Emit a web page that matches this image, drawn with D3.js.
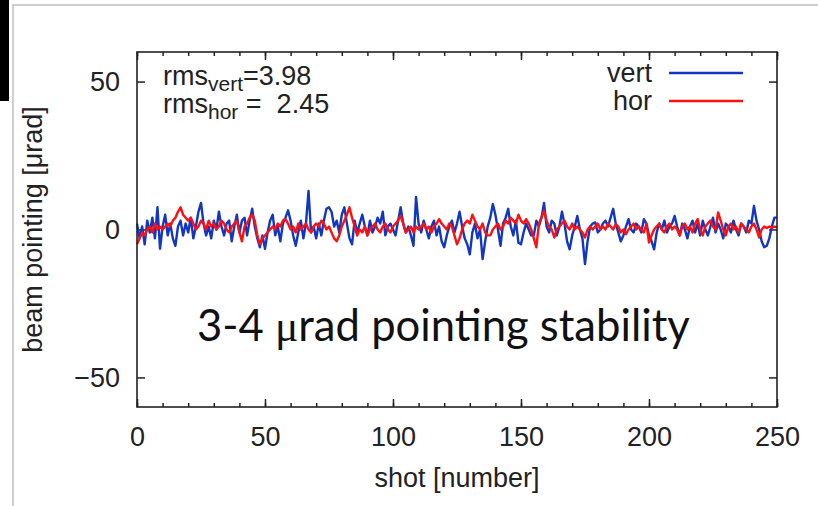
<!DOCTYPE html>
<html>
<head>
<meta charset="utf-8">
<script src="https://cdn.jsdelivr.net/npm/d3@7"></script>
<style>
  body { margin: 0; background: #fff; }
  svg { display: block; }
  .tick text { font-family: "Liberation Sans", Arial, sans-serif; fill: #222; }
</style>
</head>
<body>
<svg id="chart" width="818" height="506"></svg>
<script>
// beam pointing per shot (shots 0..250)
const vert = [
  2, -3, 1, -5, 3, -1, 4, -3, 7.5, -6.5,
  1, 5, -2, 2, -3, -5.5, 1, 3, -2, 2,
  -1, 4, -3, 1, 6, 9, 2, -2, 1, -3,
  3, 0, 6, 1, -2, 2, 3, -4, 1, 5,
  -1, 3, 4, -2, 3, 7, 1, -3, -6, -2,
  -6.5, -1, 3, 5, -2, 1, -4, 2, 4, 6.5,
  3, -2, -5.5, -1, 3, -3, 2, 13, -1, 1,
  -3, 2, -2, 3, 7, 7.5, 6, 1, 3, -1,
  5, 7.5, 2, -3, -5, 3, -1, 2, 5, 1,
  -2, 3, -1, 1, 4, 2, 6, -2, 1, 2,
  0, -2, 3, 7.5, 2, -1, 1, -2, -5.5, 11,
  2, -1, 3, 0, -3, 1, 3, -2, 1, -4,
  -6, -2, 1, 3, -1, 2, 6, 1, -3, -5,
  -8.4, -1, 2, -3, 0, -10, -4, 1, 4, 8.6,
  5, 0, -5.5, 2, 4, 7, 1, -2, 3, -4.5,
  -5, -1, 2, 0, -2, -2, 3, 1, 4, 9,
  1, -1, 3, 2, -2, 1, 6, 2, -4, -6.7,
  -2, 1, 4.6, 0, -3, -11.7, -4, 1, 2, 2.4,
  -1, 0, 2, 3, 1, 4, 7, 2, -1, -4,
  -2, 1, 3.5, 0, -1, 2, 1, -1, 3.5, 2,
  -2, -4, -6.7, -1, 2, 0, 3, -1, 1, 2,
  4.6, 1, -2, 2, 0, -3, 1, 3, -1, 2,
  -2, 3, 0, -2, 1, 4, -1, 2, 0, -3,
  2, 1, -1, 3, 0, -2, 2, 1, -1, 3,
  2, 8, 3, 0, -4, -6, -5.5, -3, 1, 4,
  4
];
const hor = [
  -5, -3, -1, -2, 0, 1, -1, 2, 0, 1,
  0, 1, 2, 1, 3, 4, 6, 7.5, 5, 4,
  3, 4, 2, 0, 1, 3, 2, 0, 3, 1,
  2, 0, 1, 3, 2, 0, -1, 1, 2, 3,
  -1, -4, 1, 2, 4, 5, 3, -2, -5, -3,
  -2, -1, 0, 1, 0, 2, 1, 3, 3.5, 2,
  0, 1, -1, 2, 0, 1, 2, 0, -1, 1,
  2, 1, 3, 2, 0, 1, -1, -3, -4, -2,
  1, 3, 5, 7.5, 4, 1, -2, 0, -1, 1,
  -2, 0, 1, 2, 0, -1, 1, 2, 0, -1,
  1, 2, 3, 4.6, 2, -1, 0, 1, -1, 1,
  0, 1, 2, 0, 1, -1, 1, 2, 3.5, 2,
  1, 0, 2, 1, -2, -5, -3, 0, 2, 3,
  2, 5, 3, 1, 0, 2, -1, -2, -2, 0,
  1, 2, 0, 1, 3, 2, 4, 3, 2, 5,
  3, 2, 3.5, 2, 0, -3, -6, 2, 4, 6.3,
  3, 1, 0, -2.7, 0, 1, 2, 3, 1, 0,
  2, 0, 1, 0, -1, -2.7, 0, 1, 0, 1,
  2, 0, 1, 0, 2, 1, 0, 1.8, 1, -1,
  0, -1.6, 0, 1, 2, 0, 1, 0, -1, 2,
  -4.4, -2, 0, 1, 2, 0, -1, 1, 2, 0,
  1, 0, -2, 1, 2, 0, 1, -1, 2, 3.5,
  0, -2, 1, 2, 3, 1, 0, 5.8, 3, 0,
  -2, 1, 2, 0, 1, -1, 2, 1, 0, -1,
  1, 2, 0, -2.7, 0, 1, 0.5, 1, 0.5, 1,
  0.7
];
const xTicks = [0, 50, 100, 150, 200, 250];
const yTicks = [-50, 0, 50];
const seriesNames = ["vert", "hor"];
const rmsValues = ["3.98", "2.45"];

const svg = d3.select("#chart");
const margin = { top: 52, right: 41, bottom: 99, left: 137 };
const width = 818 - margin.left - margin.right;
const height = 506 - margin.top - margin.bottom;
const font = "Liberation Sans, Arial, sans-serif";

// slide decoration
svg.append("rect").attr("x", 0).attr("y", 0).attr("width", 9).attr("height", 101).attr("fill", "#000");
svg.append("path").attr("d", "M13,506V5H818").attr("fill", "none").attr("stroke", "#cfcfcf").attr("stroke-width", 2);

const g = svg.append("g").attr("transform", `translate(${margin.left},${margin.top})`);

const x = d3.scaleLinear().domain([0, 250]).range([0, width]);
const y = d3.scaleLinear().domain([-60, 60]).range([height, 0]);
const color = { vert: "#1236c0", hor: "#ff1010" };

// minor ticks (no labels)
const minor = d3.range(0, 251, 10);
g.append("g").attr("transform", `translate(0,${height})`)
  .call(d3.axisBottom(x).tickValues(minor).tickSize(-4).tickFormat(""));
g.append("g")
  .call(d3.axisTop(x).tickValues(minor).tickSize(-4).tickFormat(""));

// major ticks
g.append("g").attr("transform", `translate(0,${height})`)
  .call(d3.axisBottom(x).tickValues(xTicks).tickSize(-8).tickPadding(20))
  .call(a => a.selectAll("text").style("font-size", "27px"));
g.append("g")
  .call(d3.axisTop(x).tickValues(xTicks).tickSize(-8).tickFormat(""));
g.append("g")
  .call(d3.axisLeft(y).tickValues(yTicks).tickSize(-8).tickPadding(17).tickFormat(d => d < 0 ? "\u2212" + Math.abs(d) : d))
  .call(a => a.selectAll("text").style("font-size", "27px"));
g.append("g").attr("transform", `translate(${width},0)`)
  .call(d3.axisRight(y).tickValues(yTicks).tickSize(-8).tickFormat(""));
g.selectAll(".domain").remove();
g.selectAll(".tick line").attr("stroke", "#222").attr("stroke-width", 1.5);

// lines
const line = d3.line().x((d, i) => x(i)).y(d => y(d));
g.append("path").datum(vert).attr("d", line)
  .attr("fill", "none").attr("stroke", color.vert).attr("stroke-width", 2.4).attr("stroke-linejoin", "round");
g.append("path").datum(hor).attr("d", line)
  .attr("fill", "none").attr("stroke", color.hor).attr("stroke-width", 2.4).attr("stroke-linejoin", "round");

// frame
g.append("rect").attr("width", width).attr("height", height)
  .attr("fill", "none").attr("stroke", "#222").attr("stroke-width", 1.6);

// legend
seriesNames.forEach((s, i) => {
  const ly = 21 + i * 28;
  g.append("text").attr("x", 515).attr("y", ly + 9)
    .attr("text-anchor", "end")
    .style("font-family", font).style("font-size", "27px").attr("fill", "#222")
    .text(s);
  g.append("line").attr("x1", 532).attr("x2", 606).attr("y1", ly).attr("y2", ly)
    .attr("stroke", color[s]).attr("stroke-width", 2.4);
});

// rms annotation
seriesNames.forEach((s, i) => {
  const t = g.append("text").attr("x", 26).attr("y", 33 + i * 28)
    .attr("xml:space", "preserve")
    .style("white-space", "pre")
    .style("font-family", font).style("font-size", "27px").attr("fill", "#222");
  t.append("tspan").text("rms");
  t.append("tspan").attr("dy", 6).style("font-size", "21px").text(s);
  t.append("tspan").attr("dy", -6).text(i === 0 ? "=" + rmsValues[i] : " =  " + rmsValues[i]);
});

// axis titles
svg.append("text").attr("x", margin.left + width / 2).attr("y", 487)
  .attr("text-anchor", "middle")
  .style("font-family", font).style("font-size", "27px").attr("fill", "#222")
  .text("shot [number]");
svg.append("text").attr("transform", `translate(42,${margin.top + y(0)}) rotate(-90)`)
  .attr("text-anchor", "middle")
  .style("font-family", font).style("font-size", "27px").attr("fill", "#222")
  .text("beam pointing [\u03bcrad]");

// overlay caption
const cap = svg.append("text").attr("x", 197).attr("y", 341)
  .style("font-family", "Lato, 'Open Sans', sans-serif").style("font-size", "36px").attr("fill", "#111");
cap.append("tspan").text("3-4 ");
cap.append("tspan").style("font-family", "Liberation Serif, serif").text("\u03bc");
cap.append("tspan").text("rad pointing stability");
const w = cap.node().getComputedTextLength();
cap.style("font-size", (36 * 493 / w) + "px");
</script>
</body>
</html>
